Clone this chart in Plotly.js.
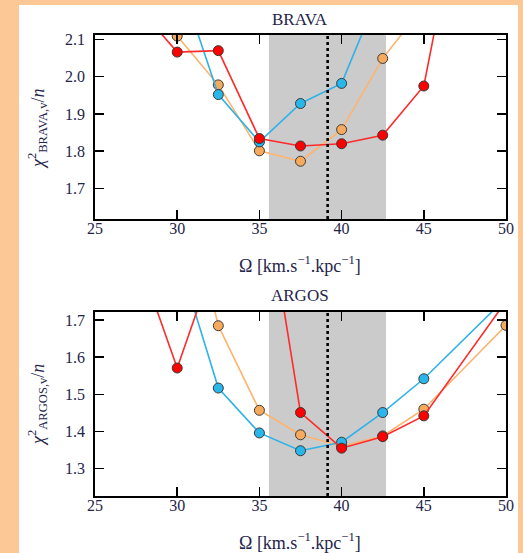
<!DOCTYPE html>
<html>
<head>
<meta charset="utf-8">
<script src="https://cdn.plot.ly/plotly-3.0.1.min.js"></script>
<style>
  html, body { margin: 0; padding: 0; background: #fcc996; width: 523px; height: 553px; overflow: hidden; }
  #chart { position: absolute; left: 19px; top: 5px; width: 499px; height: 548px; background: #ffffff; }
</style>
</head>
<body>
<div id="chart"></div>
<script>
// Pattern speed grid (km/s/kpc)
const omega = [25, 30, 32.5, 35, 37.5, 40, 42.5, 45, 50];

// Reduced chi-square against BRAVA velocities
const bravaBlue   = [2.60, 2.28, 1.952, 1.825, 1.928, 1.982, 2.25, 2.50, 2.80];
const bravaOrange = [2.50, 2.109, 1.978, 1.801, 1.773, 1.858, 2.049, 2.19, 2.40];
const bravaRed    = [2.32, 2.066, 2.070, 1.834, 1.814, 1.820, 1.843, 1.975, 3.10];

// Reduced chi-square against ARGOS velocities
const argosBlue   = [2.30, 1.878, 1.517, 1.396, 1.348, 1.371, 1.451, 1.542, 1.760];
const argosOrange = [2.40, 2.150, 1.685, 1.457, 1.391, 1.360, 1.388, 1.460, 1.686];
const argosRed    = [2.20, 1.571, 1.890, 2.140, 1.451, 1.355, 1.386, 1.442, 1.751];

// Preferred range and best-fit value
const bandRange = [35.58, 42.70];
const bestOmega = 39.15;

const xTicks = [25, 30, 35, 40, 45, 50];

const colors = {
  blue:   { line: '#2fb2e8', fill: '#29b6ea' },
  orange: { line: '#fdb46e', fill: '#f7aa5c' },
  red:    { line: '#ff2a2a', fill: '#ff0000' }
};

const serif = 'Liberation Serif';
const textColor = '#24244a';

function series(y, c, xa, ya) {
  return {
    x: omega, y: y, xaxis: xa, yaxis: ya,
    type: 'scatter', mode: 'lines+markers',
    line: { color: c.line, width: 1.6 },
    marker: { color: c.fill, size: 10, line: { color: '#3a3a3a', width: 1 } },
    hoverinfo: 'x+y'
  };
}

const data = [
  series(bravaOrange, colors.orange, 'x', 'y'),
  series(bravaBlue,   colors.blue,   'x', 'y'),
  series(bravaRed,    colors.red,    'x', 'y'),
  series(argosOrange, colors.orange, 'x2', 'y2'),
  series(argosBlue,   colors.blue,   'x2', 'y2'),
  series(argosRed,    colors.red,    'x2', 'y2')
];

const tickFont = { family: serif, size: 16, color: textColor };

function xAxis(anchor) {
  return {
    anchor: anchor, domain: [0.1523, 0.976], range: [25, 50],
    tickvals: xTicks, ticks: 'inside', ticklen: 9, tickwidth: 1.5, tickcolor: '#000',
    showline: true, linecolor: '#000', linewidth: 1.8, mirror: 'ticks',
    showgrid: false, zeroline: false, ticklabelstandoff: -6,
    tickfont: tickFont
  };
}
function yAxis(anchor, domain, range, vals) {
  return {
    anchor: anchor, domain: domain, range: range,
    tickvals: vals, tickformat: '.1f', ticks: 'inside', ticklen: 9, tickwidth: 1.5, tickcolor: '#000',
    showline: true, linecolor: '#000', linewidth: 1.8, mirror: 'ticks',
    showgrid: false, zeroline: false, ticklabelstandoff: 5,
    tickfont: tickFont
  };
}

const shapes = [];
[['x', 'y'], ['x2', 'y2']].forEach(([xa, ya]) => {
  shapes.push({
    type: 'rect', xref: xa, yref: ya + ' domain', x0: bandRange[0], x1: bandRange[1], y0: 0, y1: 1,
    fillcolor: '#cbcbcb', line: { width: 0 }, layer: 'below'
  });
  shapes.push({
    type: 'line', xref: xa, yref: ya + ' domain', x0: bestOmega, x1: bestOmega, y0: 0, y1: 1,
    line: { color: '#000', width: 2.6, dash: 'dot' }, layer: 'above'
  });
});

const xTitle = 'Ω [km.s<sup>−1</sup>.kpc<sup>−1</sup>]';
const titleFont = { family: serif, size: 17, color: textColor };
const labelFont = { family: serif, size: 18, color: textColor };

function note(text, xPx, yPx, font, angle) {
  return {
    text: text, xref: 'paper', yref: 'paper', x: xPx / 499, y: 1 - yPx / 548,
    xanchor: 'center', yanchor: 'middle', showarrow: false, font: font, textangle: angle || 0
  };
}

const annotations = [
  note('BRAVA', 281, 14, titleFont),
  note('ARGOS', 281, 290, titleFont),
  note(xTitle, 281, 259, labelFont),
  note(xTitle, 281, 536, labelFont),
  note('<i>χ</i><sup>2</sup><sub>BRAVA,v</sub>/<i>n</i>', 18, 124, labelFont, -90),
  note('<i>χ</i><sup>2</sup><sub>ARGOS,v</sub>/<i>n</i>', 18, 400, labelFont, -90)
];

const layout = {
  width: 499, height: 548,
  margin: { l: 0, r: 0, t: 0, b: 0 },
  font: { family: serif, color: textColor },
  paper_bgcolor: '#ffffff', plot_bgcolor: 'rgba(0,0,0,0)',
  showlegend: false,
  xaxis: xAxis('y'),
  yaxis: yAxis('x', [0.6095, 0.9453], [1.618, 2.112], [1.7, 1.8, 1.9, 2.0, 2.1]),
  xaxis2: xAxis('y2'),
  yaxis2: yAxis('x2', [0.104, 0.4398], [1.226, 1.722], [1.3, 1.4, 1.5, 1.6, 1.7]),
  shapes: shapes,
  annotations: annotations
};

Plotly.newPlot('chart', data, layout, { displayModeBar: false, staticPlot: true });
</script>
</body>
</html>
